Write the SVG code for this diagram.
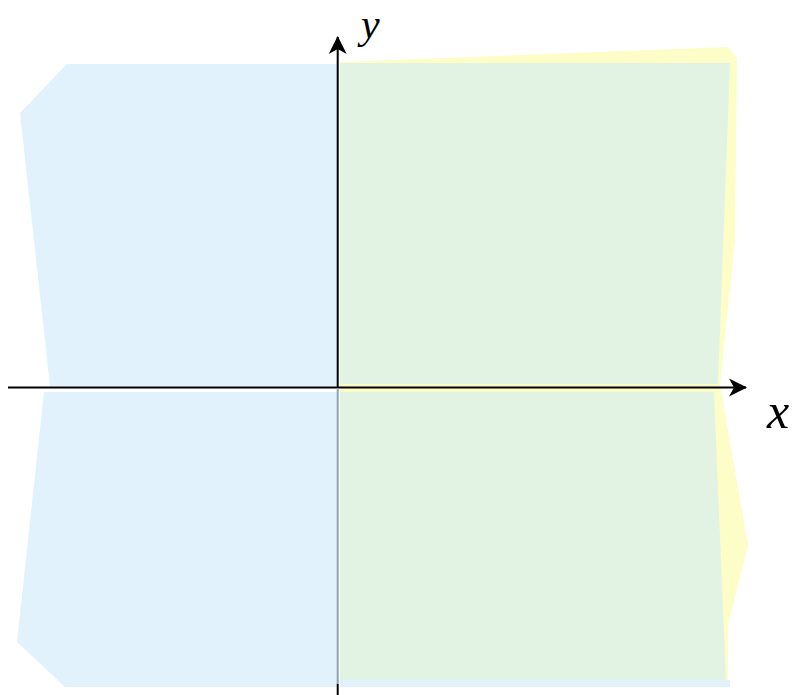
<svg xmlns="http://www.w3.org/2000/svg" width="796" height="695" viewBox="0 0 796 695">
<defs>
<style>
.blue{fill:#e1f2fd}
.green{fill:#e3f3e3}
.yellow{fill:#fdfdc8}
.axis{stroke:#000;stroke-width:2;fill:none}
.lbl{font-family:"Liberation Serif",serif;font-style:italic;fill:#000}
</style>
<marker id="arr" viewBox="0 0 20 20" refX="17" refY="10" markerWidth="20" markerHeight="20" markerUnits="userSpaceOnUse" orient="auto">
<path d="M0,1 L18,10 L0,19 L5,10 Z" fill="#000"/>
</marker>
</defs>
<g id="regions">
<polygon id="yellow-region" class="yellow" points="340,62 728,47 737,58 735,240 720,385 748,545 728,625 728,683 340,683"/>
<polygon id="blue-bottom-strip" class="blue" points="340,680 730,680 730,687 340,687"/>
<polygon id="green-upper" class="green" points="340,63 730,63 718,384 340,384"/>
<polygon id="green-lower" class="green" points="340,392 714,392 726,680 340,680"/>
<polygon id="blue-upper" class="blue" points="67,64 338,64 338,386 50,386 20,113"/>
<polygon id="blue-lower" class="blue" points="44,392 338,392 338,687 65,687 17,642"/>
</g>
<g id="connectors">
<line id="x-axis" class="axis" x1="8" y1="387.5" x2="746" y2="387.5" marker-end="url(#arr)"/>
<line id="y-axis-upper" class="axis" x1="337.7" y1="388" x2="337.7" y2="37" marker-end="url(#arr)"/>
<line id="y-axis-lower" x1="337.7" y1="388" x2="337.7" y2="684" stroke="#8fa2b3" stroke-width="2"/>
<line id="y-axis-tail" class="axis" x1="337.7" y1="684" x2="337.7" y2="695"/>
</g>
<g id="labels">
<text id="label-y" class="lbl" x="361" y="38" font-size="42">y</text>
<text id="label-x" class="lbl" x="767" y="428" font-size="50">x</text>
</g>
</svg>
